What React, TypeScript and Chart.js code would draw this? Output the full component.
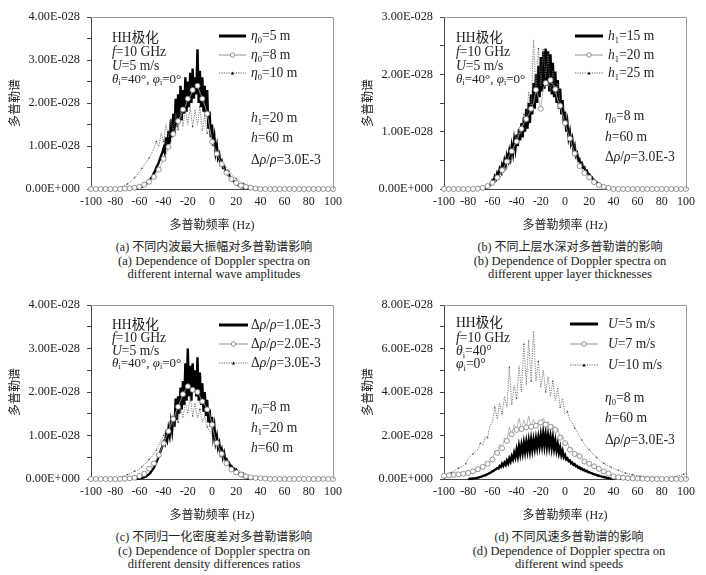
import React, { useEffect, useRef } from "react";
import { Chart, registerables } from "chart.js";
Chart.register(...registerables);

// Doppler frequency grid (Hz) for the marker series
const freqs = [
  -100, -98, -96, -94, -92, -90, -88, -86, -84, -82,
  -80, -78, -76, -74, -72, -70, -68, -66, -64, -62,
  -60, -58, -56, -54, -52, -50, -48, -46, -44, -42,
  -40, -38, -36, -34, -32, -30, -28, -26, -24, -22,
  -20, -18, -16, -14, -12, -10, -8, -6, -4, -2,
  0, 2, 4, 6, 8, 10, 12, 14, 16, 18,
  20, 22, 24, 26, 28, 30, 32, 34, 36, 38,
  40, 42, 44, 46, 48, 50, 52, 54, 56, 58,
  60, 62, 64, 66, 68, 70, 72, 74, 76, 78,
  80, 82, 84, 86, 88, 90, 92, 94, 96, 98,
  100,
];
// finer 1 Hz grid used by the thick black (noisy) spectra
const freqsFine = [
  -80, -79, -78, -77, -76, -75, -74, -73, -72, -71,
  -70, -69, -68, -67, -66, -65, -64, -63, -62, -61,
  -60, -59, -58, -57, -56, -55, -54, -53, -52, -51,
  -50, -49, -48, -47, -46, -45, -44, -43, -42, -41,
  -40, -39, -38, -37, -36, -35, -34, -33, -32, -31,
  -30, -29, -28, -27, -26, -25, -24, -23, -22, -21,
  -20, -19, -18, -17, -16, -15, -14, -13, -12, -11,
  -10, -9, -8, -7, -6, -5, -4, -3, -2, -1,
  0, 1, 2, 3, 4, 5, 6, 7, 8, 9,
  10, 11, 12, 13, 14, 15, 16, 17, 18, 19,
  20, 21, 22, 23, 24, 25, 26, 27, 28, 29,
  30, 31, 32, 33, 34, 35, 36, 37, 38, 39,
  40,
];
const xTicks = [-100, -80, -60, -40, -20, 0, 20, 40, 60, 80, 100];

const _ = null;
// all spectra in units of 1E-028
// (a) internal wave amplitude eta0
const a_eta5 = [
  _, _, _, _, _, _, _, _, _, _,
  _, _, _, _, _, _, 0, 0.005, 0.01, 0.015,
  0.025, 0.035, 0.05, 0.065, 0.085, 0.1, 0.13, 0.15, 0.19, 0.22,
  0.27, 0.3, 0.37, 0.42, 0.5, 0.55, 0.62, 0.7, 0.78, 0.85,
  0.95, 0.85, 1.2, 0.95, 1.35, 1.05, 1.6, 1.2, 1.75, 1.3,
  2.1, 1.45, 2.2, 1.55, 2.4, 1.6, 2.3, 1.75, 2.6, 1.8,
  2.5, 1.9, 2.7, 2.0, 2.8, 2.1, 2.6, 2.2, 3.25, 2.0,
  2.75, 1.9, 2.6, 1.8, 2.4, 1.7, 2.3, 1.4, 1.8, 1.2,
  1.5, 1.0, 1.2, 0.85, 1.0, 0.72, 0.8, 0.6, 0.65, 0.5,
  0.52, 0.42, 0.42, 0.34, 0.33, 0.27, 0.25, 0.2, 0.18, 0.15,
  0.13, 0.1, 0.09, 0.07, 0.06, 0.045, 0.035, 0.025, 0.018, 0.012,
  0.008, 0.004, 0, _, _, _, _, _, _, _,
  _,
];
const a_eta8 = [
  0, 0, 0, 0, 0, 0, 0, 0, 0, 0,
  0, 0, 0, 0.005, 0.01, 0.01, 0.015, 0.02, 0.03, 0.04,
  0.05, 0.07, 0.1, 0.13, 0.17, 0.22, 0.28, 0.36, 0.45, 0.56,
  0.7, 0.8, 0.98, 1.08, 1.28, 1.38, 1.58, 1.68, 1.85, 1.92,
  2.1, 2.15, 2.3, 2.35, 2.4, 2.25, 2.1, 1.95, 1.75, 1.45,
  1.1, 0.95, 0.82, 0.7, 0.58, 0.47, 0.38, 0.3, 0.23, 0.18,
  0.14, 0.1, 0.08, 0.06, 0.05, 0.04, 0.03, 0.02, 0.01, 0.005,
  0, 0, 0, 0, 0, 0, 0, 0, 0, 0,
  0, 0, 0, 0, 0, 0, 0, 0, 0, 0,
  0, 0, 0, 0, 0, 0, 0, 0, 0, 0,
  0,
];
const a_eta10 = [
  0, 0, 0, 0, 0, 0, 0, 0, 0, 0,
  0.01, 0.02, 0.04, 0.06, 0.09, 0.12, 0.16, 0.2, 0.26, 0.32,
  0.4, 0.48, 0.56, 0.64, 0.72, 0.82, 0.95, 1.1, 0.98, 1.3,
  1.1, 1.5, 1.2, 1.62, 1.3, 1.75, 1.38, 1.82, 1.45, 1.85,
  1.5, 1.9, 1.45, 1.85, 1.5, 1.92, 1.35, 1.72, 1.3, 1.4,
  1.15, 1.0, 0.9, 0.78, 0.68, 0.58, 0.5, 0.42, 0.35, 0.29,
  0.24, 0.2, 0.16, 0.13, 0.1, 0.08, 0.06, 0.05, 0.04, 0.03,
  0.02, 0.015, 0.01, 0.005, 0, 0, 0, 0, 0, 0,
  0, 0, 0, 0, 0, 0, 0, 0, 0, 0,
  0, 0, 0, 0, 0, 0, 0, 0, 0, 0,
  0,
];

// (b) upper layer thickness h1
const b_h15 = [
  _, _, _, _, _, _, _, _, _, _,
  _, _, 0, 0.005, 0.01, 0.02, 0.03, 0.05, 0.07, 0.1,
  0.15, 0.13, 0.22, 0.18, 0.28, 0.24, 0.35, 0.3, 0.42, 0.36,
  0.5, 0.42, 0.58, 0.5, 0.66, 0.55, 0.75, 0.62, 0.85, 0.7,
  0.95, 0.75, 1.05, 0.85, 1.15, 0.9, 1.25, 1.0, 1.4, 1.05,
  1.5, 1.15, 1.65, 1.3, 1.85, 1.4, 2.0, 1.5, 2.15, 1.6,
  2.3, 1.7, 2.4, 1.75, 2.45, 1.8, 2.4, 1.7, 2.35, 1.65,
  2.2, 1.6, 2.05, 1.5, 1.9, 1.4, 1.75, 1.3, 1.55, 1.15,
  1.35, 1.0, 1.15, 0.9, 1.0, 0.8, 0.88, 0.68, 0.75, 0.58,
  0.62, 0.5, 0.52, 0.43, 0.45, 0.37, 0.38, 0.31, 0.32, 0.27,
  0.26, 0.22, 0.21, 0.17, 0.16, 0.13, 0.12, 0.1, 0.09, 0.07,
  0.06, 0.05, 0.04, 0.03, 0.02, 0.015, 0.01, 0.005, 0, _,
  _,
];
const b_h20 = [
  0, 0, 0, 0, 0, 0, 0, 0, 0, 0,
  0, 0, 0, 0, 0.005, 0.01, 0.02, 0.03, 0.05, 0.08,
  0.11, 0.15, 0.2, 0.26, 0.33, 0.4, 0.48, 0.58, 0.66, 0.75,
  0.83, 0.95, 1.05, 1.14, 1.22, 1.3, 1.4, 1.5, 1.73, 1.6,
  1.4, 1.75, 1.85, 1.8, 1.9, 1.82, 1.74, 1.55, 1.45, 1.3,
  1.15, 1.0, 0.88, 0.75, 0.62, 0.5, 0.4, 0.32, 0.28, 0.24,
  0.2, 0.16, 0.12, 0.09, 0.07, 0.05, 0.04, 0.03, 0.02, 0.01,
  0, 0, 0, 0, 0, 0, 0, 0, 0, 0,
  0, 0, 0, 0, 0, 0, 0, 0, 0, 0,
  0, 0, 0, 0, 0, 0, 0, 0, 0, 0,
  0,
];
const b_h25 = [
  0, 0, 0, 0, 0, 0, 0, 0, 0, 0,
  0, 0, 0, 0, 0, 0.005, 0.01, 0.02, 0.03, 0.05,
  0.08, 0.12, 0.16, 0.2, 0.25, 0.3, 0.36, 0.45, 0.55, 0.7,
  0.85, 1.05, 0.95, 1.3, 1.15, 1.7, 1.35, 2.6, 1.7, 2.45,
  1.8, 2.45, 1.95, 2.35, 1.7, 2.05, 1.65, 1.85, 1.5, 1.45,
  1.35, 1.2, 1.0, 0.88, 0.75, 0.65, 0.55, 0.45, 0.37, 0.3,
  0.24, 0.19, 0.15, 0.11, 0.08, 0.06, 0.04, 0.03, 0.02, 0.01,
  0.005, 0, 0, 0, 0, 0, 0, 0, 0, 0,
  0, 0, 0, 0, 0, 0, 0, 0, 0, 0,
  0, 0, 0, 0, 0, 0, 0, 0, 0, 0,
  0,
];

// (c) normalized density difference
const c_d1 = [
  _, _, _, _, _, _, _, _, _, _,
  _, _, _, _, _, _, _, 0, 0.003, 0.006,
  0.01, 0.015, 0.02, 0.03, 0.04, 0.055, 0.07, 0.09, 0.11, 0.14,
  0.18, 0.22, 0.26, 0.32, 0.38, 0.45, 0.52, 0.6, 0.68, 0.75,
  0.85, 0.8, 1.0, 0.9, 1.15, 1.0, 1.3, 1.1, 1.45, 1.2,
  1.85, 1.35, 1.9, 1.5, 2.1, 1.6, 2.25, 1.7, 2.66, 1.8,
  3.0, 1.9, 2.6, 1.8, 2.66, 2.0, 2.5, 1.9, 2.8, 1.8,
  2.45, 1.7, 2.2, 1.55, 2.0, 1.45, 1.82, 1.3, 1.6, 1.2,
  1.43, 1.0, 1.2, 0.85, 0.98, 0.72, 0.82, 0.6, 0.68, 0.5,
  0.6, 0.45, 0.46, 0.37, 0.37, 0.3, 0.3, 0.24, 0.24, 0.19,
  0.21, 0.15, 0.14, 0.11, 0.1, 0.08, 0.06, 0.045, 0.03, 0.02,
  0.01, 0.005, 0, _, _, _, _, _, _, _,
  _,
];
const c_d2 = [
  0, 0, 0, 0, 0, 0, 0, 0, 0, 0,
  0, 0, 0, 0, 0.005, 0.01, 0.015, 0.02, 0.03, 0.05,
  0.07, 0.09, 0.12, 0.18, 0.24, 0.3, 0.36, 0.44, 0.55, 0.68,
  0.82, 0.96, 1.1, 1.24, 1.38, 1.52, 1.66, 1.8, 1.95, 2.05,
  2.13, 2.1, 2.05, 2.02, 2.0, 1.9, 1.78, 1.7, 1.6, 1.5,
  1.25, 1.0, 0.83, 0.7, 0.58, 0.44, 0.36, 0.28, 0.22, 0.18,
  0.15, 0.12, 0.1, 0.08, 0.06, 0.05, 0.04, 0.03, 0.025, 0.02,
  0.02, 0.015, 0.01, 0.005, 0, 0, 0, 0, 0, 0,
  0, 0, 0, 0, 0, 0, 0, 0, 0, 0,
  0, 0, 0, 0, 0, 0, 0, 0, 0, 0,
  0,
];
const c_d3 = [
  0, 0, 0, 0, 0, 0, 0, 0, 0, 0,
  0.01, 0.02, 0.04, 0.06, 0.08, 0.1, 0.12, 0.15, 0.18, 0.2,
  0.24, 0.28, 0.33, 0.38, 0.45, 0.5, 0.58, 0.66, 0.78, 0.9,
  1.0, 1.15, 1.05, 1.4, 1.2, 1.55, 1.3, 1.65, 1.4, 1.75,
  1.5, 1.9, 1.45, 1.75, 1.4, 1.6, 1.3, 1.45, 1.2, 1.1,
  1.0, 0.9, 0.8, 0.7, 0.6, 0.55, 0.47, 0.4, 0.33, 0.28,
  0.24, 0.2, 0.17, 0.14, 0.11, 0.09, 0.07, 0.06, 0.05, 0.04,
  0.035, 0.03, 0.02, 0.015, 0.01, 0.005, 0, 0, 0, 0,
  0, 0, 0, 0, 0, 0, 0, 0, 0, 0,
  0, 0, 0, 0, 0, 0, 0, 0, 0, 0,
  0,
];

// (d) wind speed U
const d_u5 = [
  0, 0.005, 0.01, 0.015, 0.02, 0.03, 0.04, 0.05, 0.06, 0.08,
  0.1, 0.11, 0.13, 0.15, 0.17, 0.2, 0.22, 0.25, 0.28, 0.31,
  0.35, 0.38, 0.42, 0.45, 0.5, 0.48, 0.6, 0.55, 0.7, 0.6,
  0.75, 0.65, 0.85, 0.72, 0.95, 0.8, 1.05, 0.9, 1.2, 1.0,
  1.35, 1.05, 1.5, 1.15, 1.55, 1.2, 1.65, 1.25, 1.7, 1.3,
  1.75, 1.3, 1.8, 1.35, 1.8, 1.4, 1.85, 1.45, 1.9, 1.5,
  2.0, 1.55, 2.1, 1.55, 2.05, 1.5, 2.0, 1.5, 1.95, 1.45,
  1.9, 1.4, 1.75, 1.3, 1.6, 1.2, 1.45, 1.1, 1.3, 1.0,
  1.1, 0.9, 0.95, 0.82, 0.85, 0.72, 0.75, 0.65, 0.68, 0.58,
  0.6, 0.52, 0.54, 0.46, 0.48, 0.41, 0.43, 0.36, 0.38, 0.32,
  0.31, 0.28, 0.27, 0.24, 0.22, 0.2, 0.19, 0.16, 0.15, 0.13,
  0.12, 0.1, 0.09, 0.08, 0.06, 0.05, 0.04, 0.03, 0.02, 0.01,
  0,
];
const d_u7 = [
  0.15, 0.16, 0.17, 0.18, 0.19, 0.2, 0.21, 0.22, 0.24, 0.26,
  0.28, 0.31, 0.35, 0.4, 0.45, 0.5, 0.56, 0.63, 0.7, 0.8,
  0.9, 1.3, 1.2, 1.6, 1.42, 1.9, 1.75, 2.4, 2.05, 2.5,
  2.26, 2.8, 2.3, 2.7, 2.37, 2.9, 2.4, 2.75, 2.45, 2.6,
  2.6, 2.8, 2.5, 2.65, 2.4, 2.5, 2.26, 2.3, 1.9, 2.0,
  1.65, 1.7, 1.35, 1.4, 1.15, 1.2, 1.05, 1.0, 0.8, 0.8,
  0.7, 0.65, 0.58, 0.53, 0.47, 0.4, 0.35, 0.3, 0.25, 0.2,
  0.12, 0.1, 0.08, 0.07, 0.06, 0.05, 0.04, 0.035, 0.03, 0.025,
  0.02, 0.015, 0.01, 0.01, 0.005, 0.005, 0, 0, 0, 0,
  0, 0, 0, 0, 0, 0, 0, 0, 0, 0,
  0,
];
const d_u10 = [
  0.15, 0.2, 0.26, 0.3, 0.36, 0.42, 0.5, 0.56, 0.62, 0.7,
  0.95, 1.05, 1.15, 1.3, 1.35, 1.65, 1.55, 1.95, 1.9, 2.45,
  2.6, 3.3, 2.75, 3.5, 3.0, 3.8, 3.3, 5.15, 3.4, 4.3,
  3.7, 5.2, 4.0, 6.2, 4.3, 6.4, 4.5, 6.8, 4.5, 5.4,
  4.2, 5.0, 4.0, 4.7, 3.8, 4.5, 3.6, 4.2, 3.3, 3.7,
  3.0, 3.1, 2.7, 2.6, 2.35, 2.2, 1.95, 1.8, 1.6, 1.45,
  1.35, 1.2, 1.1, 1.0, 0.9, 0.8, 0.72, 0.65, 0.6, 0.55,
  0.5, 0.45, 0.4, 0.35, 0.32, 0.27, 0.25, 0.22, 0.2, 0.17,
  0.15, 0.13, 0.12, 0.11, 0.1, 0.09, 0.08, 0.07, 0.06, 0.055,
  0.05, 0.05, 0.06, 0.07, 0.08, 0.1, 0.12, 0.15, 0.18, 0.22,
  0.27,
];

const SERIF = "'Liberation Serif','DejaVu Serif',serif";
const MIXED = "'Liberation Serif','Noto Sans CJK SC',serif";
const TXT = "#222";

const fmtY = (v: number) => (v === 0 ? "0.00E+000" : v.toFixed(2) + "E-028");

const framePlugin = {
  id: "frame",
  afterDraw(chart: any) {
    const { ctx, chartArea } = chart;
    const { left, right, top, bottom } = chartArea;
    ctx.save();
    ctx.strokeStyle = "#9a9a9a";
    ctx.lineWidth = 1;
    ctx.beginPath();
    ctx.moveTo(left, Math.round(top) + 0.5);
    ctx.lineTo(Math.round(right) + 0.5, Math.round(top) + 0.5);
    ctx.lineTo(Math.round(right) + 0.5, bottom);
    ctx.stroke();
    ctx.restore();
  },
};

function styleFor(k: number) {
  if (k === 0)
    return {
      borderColor: "#000",
      borderWidth: 2.4,
      pointRadius: 0,
      spanGaps: false,
      order: 3,
    };
  if (k === 1)
    return {
      borderColor: "#ababab",
      borderWidth: 0.8,
      pointStyle: "circle",
      pointRadius: (c: any) => (c.dataIndex % 2 === 0 ? 2.5 : 0),
      pointBackgroundColor: "#fff",
      pointBorderColor: "#7a7a7a",
      pointBorderWidth: 0.8,
      order: 1,
    };
  return {
    borderColor: "#707070",
    borderWidth: 0.9,
    borderDash: [1.2, 1.2],
    pointStyle: "triangle",
    pointRadius: (c: any) => (c.dataIndex % 3 === 0 ? 1.1 : 0),
    pointBackgroundColor: "#333",
    pointBorderWidth: 0,
    order: 2,
  };
}

type ChartProps = {
  left: number;
  top: number;
  height: number;
  ymax: number;
  yStep: number;
  labelStep: number;
  series: (number | null)[][];
  names: string[];
};

function SpectrumChart({ left, top, height, ymax, yStep, labelStep, series, names }: ChartProps) {
  const ref = useRef<HTMLCanvasElement>(null);
  useEffect(() => {
    const titleFont = { family: MIXED, size: 12 };
    const chart = new Chart(ref.current as HTMLCanvasElement, {
      type: "line",
      data: {
        datasets: series.map((vals, k) => {
          const xs = k === 0 ? freqsFine : freqs;
          return {
            label: names[k],
            data: xs.map((f, i) => ({ x: f, y: vals[i] })),
            tension: 0,
            fill: false,
            clip: false,
            ...(styleFor(k) as any),
          };
        }),
      },
      options: {
        animation: false,
        responsive: false,
        layout: { padding: { top: 17, right: 20, left: 0, bottom: 0 } },
        plugins: { legend: { display: false }, tooltip: { enabled: false } },
        scales: {
          x: {
            type: "linear",
            min: xTicks[0],
            max: xTicks[xTicks.length - 1],
            afterBuildTicks: (s: any) => {
              s.ticks = xTicks.map((v) => ({ value: v }));
            },
            ticks: {
              font: { family: SERIF, size: 12 },
              color: TXT,
              padding: 6,
              maxRotation: 0,
              autoSkip: false,
              callback: (v: any) => String(v),
            },
            grid: { display: true, drawOnChartArea: false, drawTicks: false, color: "#444" },
            border: { display: true, color: "#444", width: 1 },
            title: {
              display: true,
              text: "多普勒频率 (Hz)",
              font: titleFont,
              color: TXT,
              padding: { top: 0, bottom: 0 },
            },
            afterFit: (s: any) => {
              s.height = 44;
            },
          },
          y: {
            type: "linear",
            min: 0,
            max: ymax,
            ticks: {
              stepSize: yStep,
              autoSkip: false,
              font: { family: SERIF, size: 12.3 },
              color: TXT,
              padding: 7,
              callback: (v: any) => {
                const r = v / labelStep;
                return Math.abs(r - Math.round(r)) < 1e-6 ? fmtY(v) : "";
              },
            },
            grid: { display: true, drawOnChartArea: false, drawTicks: true, tickLength: 4, color: "#444" },
            border: { display: true, color: "#444", width: 1 },
            title: {
              display: true,
              text: "多普勒谱",
              font: titleFont,
              color: TXT,
              padding: { top: 9, bottom: 0 },
            },
            afterFit: (s: any) => {
              s.width = 91;
            },
          },
        },
      },
      plugins: [framePlugin],
    } as any);
    return () => chart.destroy();
  }, []);
  return (
    <canvas
      ref={ref}
      width={353}
      height={height}
      style={{ position: "absolute", left, top, width: 353, height }}
    />
  );
}

function T({ x, y, children, size = 13.6, center = false }: any) {
  return (
    <div
      style={{
        position: "absolute",
        left: x,
        top: y,
        transform: center ? "translate(-50%,-50%)" : "translateY(-50%)",
        fontSize: size,
        lineHeight: 1,
        whiteSpace: "nowrap",
        fontFamily: MIXED,
        color: TXT,
      }}
    >
      {children}
    </div>
  );
}

const subSt = { fontSize: "0.62em", verticalAlign: "-0.28em", lineHeight: 0 } as any;
const Sub = ({ c }: any) => <span style={subSt}>{c}</span>;

function Sample({ kind, x1, x2, y }: any) {
  const w = x2 - x1;
  return (
    <svg style={{ position: "absolute", left: x1, top: y - 5 }} width={w} height={10}>
      {kind === 0 && <line x1={0} y1={5} x2={w} y2={5} stroke="#000" strokeWidth={3} />}
      {kind === 1 && (
        <>
          <line x1={0} y1={5} x2={w} y2={5} stroke="#8f8f8f" strokeWidth={1} />
          <circle cx={w / 2} cy={5} r={2.2} fill="#fff" stroke="#777" strokeWidth={0.8} />
        </>
      )}
      {kind === 2 && (
        <>
          <line x1={0} y1={5} x2={w} y2={5} stroke="#666" strokeWidth={1} strokeDasharray="1.2 1.2" />
          <polygon points={`${w / 2 - 1.6},6.4 ${w / 2 + 1.6},6.4 ${w / 2},3.4`} fill="#000" />
        </>
      )}
    </svg>
  );
}

type PanelDef = {
  left: number;
  top: number;
  height: number;
  ymax: number;
  yStep: number;
  labelStep: number;
  series: (number | null)[][];
  names: string[];
  legend: any[];
  legendX: [number, number, number];
  legendY: number[];
  leftTexts: any[];
  leftX: number;
  leftY: number[];
  rightTexts: any[];
  rightX: number;
  rightY: number[];
  captions: string[];
  capX: number;
  capY: number[];
};

const thetaPhi = (
  <span style={{ fontSize: 13 }}>
    <i>θ</i>
    <Sub c="i" />=40°, <i>φ</i>
    <Sub c="i" />=0°
  </span>
);
const dRho = (v: string) => (
  <>
    Δ<i>ρ</i>/<i>ρ</i>={v}
  </>
);
const eta = (v: string) => (
  <>
    <i>η</i>
    <Sub c="0" />={v}
  </>
);
const h1 = (v: string) => (
  <>
    <i>h</i>
    <Sub c="1" />={v}
  </>
);
const hh = (
  <>
    <i>h</i>=60 m
  </>
);
const leftStd = [
  "HH极化",
  <>
    <i>f</i>=10 GHz
  </>,
  <>
    <i>U</i>=5 m/s
  </>,
  thetaPhi,
];

const panels: PanelDef[] = [
  {
    left: 0, top: 0, height: 233, ymax: 4, yStep: 0.5, labelStep: 1,
    series: [a_eta5, a_eta8, a_eta10],
    names: ["η0=5 m", "η0=8 m", "η0=10 m"],
    legend: [eta("5 m"), eta("8 m"), eta("10 m")],
    legendX: [219, 246, 251], legendY: [36, 55, 73],
    leftTexts: leftStd, leftX: 112, leftY: [38, 52, 66, 79],
    rightTexts: [h1("20 m"), hh, dRho("3.0E-3")], rightX: 251, rightY: [118, 138, 160],
    captions: ["(a) 不同内波最大振幅对多普勒谱影响", "(a) Dependence of Doppler spectra on", "different internal wave amplitudes"],
    capX: 214, capY: [247, 261, 274],
  },
  {
    left: 353, top: 0, height: 233, ymax: 3, yStep: 0.5, labelStep: 1,
    series: [b_h15, b_h20, b_h25],
    names: ["h1=15 m", "h1=20 m", "h1=25 m"],
    legend: [h1("15 m"), h1("20 m"), h1("25 m")],
    legendX: [575, 603, 608], legendY: [36, 55, 73],
    leftTexts: leftStd, leftX: 456, leftY: [38, 52, 66, 79],
    rightTexts: [eta("8 m"), hh, dRho("3.0E-3")], rightX: 605, rightY: [116, 137, 157],
    captions: ["(b) 不同上层水深对多普勒谱的影响", "(b) Dependence of Doppler spectra on", "different upper layer thicknesses"],
    capX: 570, capY: [247, 261, 274],
  },
  {
    left: 0, top: 288, height: 235, ymax: 4, yStep: 0.5, labelStep: 1,
    series: [c_d1, c_d2, c_d3],
    names: ["Δρ/ρ=1.0E-3", "Δρ/ρ=2.0E-3", "Δρ/ρ=3.0E-3"],
    legend: [dRho("1.0E-3"), dRho("2.0E-3"), dRho("3.0E-3")],
    legendX: [219, 248, 251], legendY: [325, 344, 363],
    leftTexts: leftStd, leftX: 112, leftY: [325, 338, 351, 363],
    rightTexts: [eta("8 m"), h1("20 m"), hh], rightX: 251, rightY: [407, 428, 448],
    captions: ["(c) 不同归一化密度差对多普勒谱影响", "(c) Dependence of Doppler spectra on", "different density differences ratios"],
    capX: 214, capY: [537, 551, 564],
  },
  {
    left: 353, top: 288, height: 235, ymax: 8, yStep: 1, labelStep: 2,
    series: [d_u5, d_u7, d_u10],
    names: ["U=5 m/s", "U=7 m/s", "U=10 m/s"],
    legend: [
      <><i>U</i>=5 m/s</>,
      <><i>U</i>=7 m/s</>,
      <><i>U</i>=10 m/s</>,
    ],
    legendX: [570, 598, 608], legendY: [324, 344, 365],
    leftTexts: [
      "HH极化",
      <><i>f</i>=10 GHz</>,
      <><i>θ</i><Sub c="i" />=40°</>,
      <><i>φ</i><Sub c="i" />=0°</>,
    ],
    leftX: 456, leftY: [323, 338, 351, 364],
    rightTexts: [eta("8 m"), hh, dRho("3.0E-3")], rightX: 605, rightY: [398, 418, 440],
    captions: ["(d) 不同风速多普勒谱的影响", "(d) Dependence of Doppler spectra on", "different wind speeds"],
    capX: 569, capY: [537, 551, 564],
  },
];

export default function App() {
  useEffect(() => {
    document.body.style.margin = "0";
  }, []);
  return (
    <div style={{ position: "absolute", left: 0, top: 0, width: 706, height: 575, background: "#fff", overflow: "hidden" }}>
      {panels.map((p, pi) => (
        <React.Fragment key={pi}>
          <SpectrumChart
            left={p.left}
            top={p.top}
            height={p.height}
            ymax={p.ymax}
            yStep={p.yStep}
            labelStep={p.labelStep}
            series={p.series}
            names={p.names}
          />
          {p.legend.map((lab, k) => (
            <React.Fragment key={"l" + k}>
              <Sample kind={k} x1={p.legendX[0]} x2={p.legendX[1]} y={p.legendY[k]} />
              <T x={p.legendX[2]} y={p.legendY[k]}>{lab}</T>
            </React.Fragment>
          ))}
          {p.leftTexts.map((t, k) => (
            <T key={"a" + k} x={p.leftX} y={p.leftY[k]}>{t}</T>
          ))}
          {p.rightTexts.map((t, k) => (
            <T key={"r" + k} x={p.rightX} y={p.rightY[k]}>{t}</T>
          ))}
          {p.captions.map((c, k) => (
            <T key={"c" + k} x={p.capX} y={p.capY[k]} size={k === 0 ? 12 : 12.6} center>{c}</T>
          ))}
        </React.Fragment>
      ))}
    </div>
  );
}
